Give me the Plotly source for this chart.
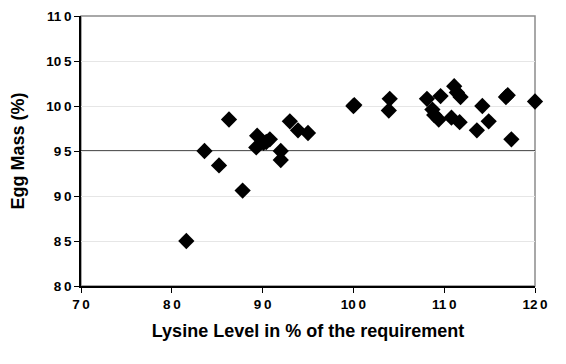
import plotly.graph_objects as go

lysine_level = [81.6, 83.6, 85.2, 87.8, 86.3, 89.4, 89.3, 90.1, 90.8, 90.4,
                92.0, 92.0, 93.0, 93.9, 95.0, 100.0, 100.1, 104.0, 103.9,
                108.1, 109.6, 111.1, 111.4, 111.8, 108.7, 108.9, 109.4,
                110.8, 111.7, 114.2, 114.9, 113.6, 116.8, 117.0, 117.4, 120.0]
egg_mass = [85.0, 95.0, 93.4, 90.6, 98.5, 96.7, 95.4, 95.9, 96.3, 96.0,
            95.0, 94.0, 98.3, 97.3, 97.0, 100.0, 100.1, 100.8, 99.5,
            100.8, 101.1, 102.2, 101.5, 101.0, 99.6, 99.0, 98.5,
            98.7, 98.2, 100.0, 98.3, 97.3, 101.0, 101.2, 96.3, 100.5]

x_ticks = [70, 80, 90, 100, 110, 120]
x_tick_text = ["7\u20090", "8\u20090", "9\u20090", "10\u20090", "11\u20090", "12\u20090"]
y_ticks = [80, 85, 90, 95, 100, 105, 110]
y_tick_text = ["8\u20090", "8\u20095", "9\u20090", "9\u20095", "10\u20090", "10\u20095", "11\u20090"]
reference_level = 95

font_family = "Liberation Sans, Arial, sans-serif"

fig = go.Figure()
fig.add_trace(go.Scatter(
    x=lysine_level, y=egg_mass, mode="markers",
    marker=dict(symbol="diamond", size=12.5, color="black", line=dict(width=0)),
    showlegend=False, cliponaxis=False,
))

# frame (top/right) in gray
fig.add_shape(type="rect", xref="paper", yref="paper", x0=0, x1=1, y0=0, y1=1,
              line=dict(color="#8c8c8c", width=1.5), layer="below")
# reference line
fig.add_shape(type="line", xref="paper", yref="y", x0=0, x1=1,
              y0=reference_level, y1=reference_level,
              line=dict(color="#222222", width=1.5), layer="between")

fig.update_layout(
    width=558, height=356,
    margin=dict(l=73, r=31, t=8, b=78),
    paper_bgcolor="white", plot_bgcolor="white",
    font=dict(family=font_family, color="black"),
    xaxis=dict(
        range=[70, 120], tickvals=x_ticks, ticktext=x_tick_text,
        showgrid=False, zeroline=False, automargin=False,
        showline=True, linecolor="black", linewidth=1.5,
        ticks="outside", ticklen=5, tickcolor="black", tickwidth=1,
        tickfont=dict(size=13.5, family=font_family, weight="bold"),
        title=dict(text="<b>Lysine Level in % of the requirement</b>",
                   font=dict(size=18), standoff=13),
    ),
    yaxis=dict(
        range=[80, 110], tickvals=y_ticks, ticktext=y_tick_text,
        showgrid=True, gridcolor="#e6e6e6", gridwidth=1, zeroline=False,
        automargin=False,
        showline=True, linecolor="black", linewidth=1.5,
        ticks="outside", ticklen=5, tickcolor="black", tickwidth=1,
        tickfont=dict(size=13.5, family=font_family, weight="bold"),
        title=dict(text="<b>Egg Mass (%)</b>", font=dict(size=18), standoff=18),
    ),
)

fig.write_html("out.html")
